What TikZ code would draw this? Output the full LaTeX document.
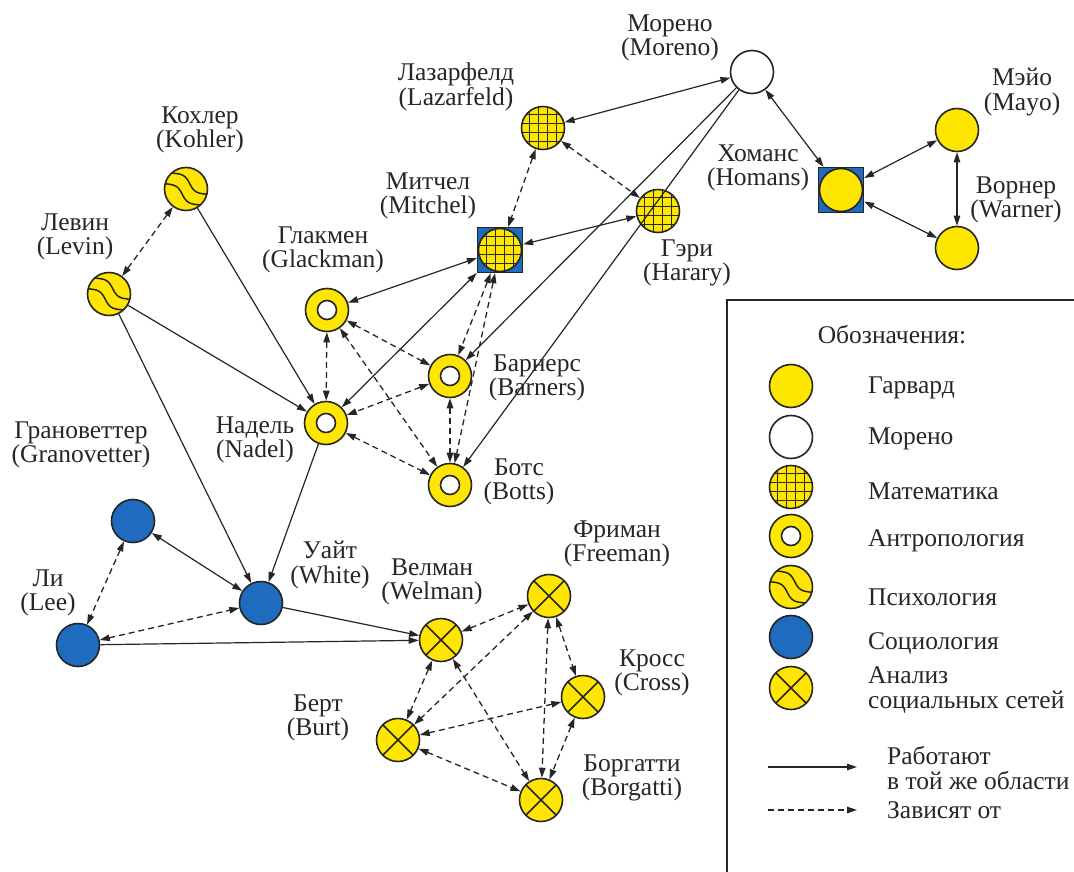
\documentclass[tikz,border=0pt]{standalone}
\usepackage{fontspec}
\setmainfont{Liberation Serif}
\usetikzlibrary{arrows.meta}
\definecolor{yel}{HTML}{FFE600}
\definecolor{blu}{HTML}{1E6BC0}
\definecolor{ink}{HTML}{262626}
\begin{document}
\begin{tikzpicture}[x=1pt,y=-1pt, font=\fontsize{25.5}{24.5}\selectfont,
 base/.style={circle, draw=ink, line width=1.6pt, fill=yel, minimum size=43pt, inner sep=0pt},
 harv/.style={base},
 mor/.style={base, fill=white},
 mathn/.style={base, path picture={\foreach \d in {-13.5,-4.5,4.5,13.5}{\draw[ink,line width=1.4pt] ([xshift=\d pt]path picture bounding box.north) -- ([xshift=\d pt]path picture bounding box.south); \draw[ink,line width=1.4pt] ([yshift=\d pt]path picture bounding box.west) -- ([yshift=\d pt]path picture bounding box.east);}}},
 anth/.style={base, path picture={\draw[ink, fill=white, line width=1.6pt] (path picture bounding box.center) circle (9.5pt);}},
 psy/.style={base, path picture={\begin{scope}[shift={(path picture bounding box.center)}]\foreach \o in {-6.5,6.5}{\draw[ink, line width=1.5pt] plot[domain=-30:30, samples=45, smooth] ({\x*cos(35)-(\o+3*sin(10*\x))*sin(35)},{\x*sin(35)+(\o+3*sin(10*\x))*cos(35)});}\end{scope}}},
 soc/.style={base, fill=blu},
 sna/.style={base, path picture={\draw[ink,line width=1.5pt] (path picture bounding box.north west) -- (path picture bounding box.south east) (path picture bounding box.north east) -- (path picture bounding box.south west);}},
 sqbox/.style={rectangle, draw=ink, fill=blu, line width=1.3pt, minimum size=45pt, inner sep=0pt},
 lbl/.style={align=center, inner sep=0pt, text=ink},
 lgl/.style={align=left, inner sep=0pt, text=ink, anchor=west},
 con/.style={draw=ink, line width=1.2pt},
 sol/.style={con, -{Triangle[length=10pt,width=6.5pt]}},
 dbl/.style={con, {Triangle[length=10pt,width=6.5pt]}-{Triangle[length=10pt,width=6.5pt]}},
 dsh/.style={dbl, line width=1.3pt, dash pattern=on 6pt off 4pt}
]
\fill[white] (0,0) rectangle (1074,872);
\useasboundingbox (0,0) rectangle (1074,872);

% legend frame
\draw[ink, line width=2pt] (1074,300) -- (727,300) -- (727,872);

% nodes
\node[mor] (moreno) at (752,72) {};
\node[mathn] (lazar) at (543,128) {};
\node[mathn] (gary) at (658,211) {};
\node[sqbox] (mitchel) at (500,250) {};
\node[mathn] (mitchelc) at (500,250) {};
\node[sqbox] (homans) at (841,190) {};
\node[harv] (homansc) at (841,190) {};
\node[harv] (mayo) at (957,130) {};
\node[harv] (warner) at (957,248) {};
\node[psy] (kohler) at (186,189) {};
\node[psy] (levin) at (109,294) {};
\node[anth] (glack) at (327,310) {};
\node[anth] (nadel) at (326,423) {};
\node[anth] (barners) at (450,376) {};
\node[anth] (botts) at (450,485) {};
\node[soc] (grano) at (133,521) {};
\node[soc] (white) at (261,603) {};
\node[soc] (lee) at (78,645) {};
\node[sna] (welman) at (441,640) {};
\node[sna] (freeman) at (549,596) {};
\node[sna] (cross) at (583,697) {};
\node[sna] (burt) at (398,740) {};
\node[sna] (borgatti) at (541,800) {};

% labels
\node[lbl] (tmoreno) at (670,38) {Морено\\(Moreno)};
\node[lbl] (tlazar) at (456,87) {Лазарфелд\\(Lazarfeld)};
\node[lbl] (tmitchel) at (428,196) {Митчел\\(Mitchel)};
\node[lbl] (tgary) at (687,263) {Гэри\\(Harary)};
\node[lbl] (thomans) at (758,168) {Хоманс\\(Homans)};
\node[lbl] (tmayo) at (1022,92) {Мэйо\\(Mayo)};
\node[lbl] (twarner) at (1016,200) {Ворнер\\(Warner)};
\node[lbl] (tkohler) at (200,130) {Кохлер\\(Kohler)};
\node[lbl] (tlevin) at (75,237) {Левин\\(Levin)};
\node[lbl] (tglack) at (323,250) {Глакмен\\(Glackman)};
\node[lbl] (tnadel) at (255,440) {Надель\\(Nadel)};
\node[lbl] (tgrano) at (81,445) {Грановеттер\\(Granovetter)};
\node[lbl] (tbarners) at (537,378) {Барнерс\\(Barners)};
\node[lbl] (tbotts) at (519,482) {Ботс\\(Botts)};
\node[lbl] (twhite) at (330,565) {Уайт\\(White)};
\node[lbl] (tlee) at (48,593) {Ли\\(Lee)};
\node[lbl] (twelman) at (432,582) {Велман\\(Welman)};
\node[lbl] (tfreeman) at (617,544) {Фриман\\(Freeman)};
\node[lbl] (tcross) at (652,673) {Кросс\\(Cross)};
\node[lbl] (tburt) at (318,718) {Берт\\(Burt)};
\node[lbl] (tborgatti) at (632,778) {Боргатти\\(Borgatti)};

% edges
\draw[dbl] (moreno) -- (lazar);
\draw[dbl] (moreno) -- (homans);
\draw[sol] (moreno) -- (barners);
\draw[sol] (moreno) -- (botts);
\draw[dbl] (mitchel) -- (gary);
\draw[dbl] (mitchel) -- (glack);
\draw[dbl] (mitchel) -- (nadel);
\draw[dsh] (lazar) -- (mitchel);
\draw[dsh] (lazar) -- (gary);
\draw[dsh] (mitchel) -- (barners);
\draw[dsh] (mitchel) -- (botts);
\draw[dbl] (homans) -- (mayo);
\draw[dbl] (homans) -- (warner);
\draw[dbl] (mayo) -- (warner);
\draw[dsh] (kohler) -- (levin);
\draw[sol] (kohler) -- (nadel);
\draw[sol] (levin) -- (nadel);
\draw[sol] (levin) -- (white);
\draw[sol] (nadel) -- (white);
\draw[dsh] (glack) -- (nadel);
\draw[dsh] (glack) -- (barners);
\draw[dsh] (glack) -- (botts);
\draw[dsh] (barners) -- (nadel);
\draw[dsh] (nadel) -- (botts);
\draw[dsh] (barners) -- (botts);
\draw[dbl] (grano) -- (white);
\draw[dsh] (grano) -- (lee);
\draw[dsh] (lee) -- (white);
\draw[sol] (white) -- (welman);
\draw[sol] (lee) -- (welman);
\draw[dsh] (welman) -- (freeman);
\draw[dsh] (welman) -- (burt);
\draw[dsh] (welman) -- (borgatti);
\draw[dsh] (freeman) -- (burt);
\draw[dsh] (freeman) -- (cross);
\draw[dsh] (freeman) -- (borgatti);
\draw[dsh] (cross) -- (burt);
\draw[dsh] (cross) -- (borgatti);
\draw[dsh] (burt) -- (borgatti);

% legend
\node[lbl] (ltitle) at (892,335) {Обозначения:};
\node[harv] (lg1) at (791,386) {};
\node[mor] (lg2) at (791,437) {};
\node[mathn] (lg3) at (791,487) {};
\node[anth] (lg4) at (791,536) {};
\node[psy] (lg5) at (791,587) {};
\node[soc] (lg6) at (791,637) {};
\node[sna] (lg7) at (791,688) {};
\node[lgl] (lt1) at (868,388) {Гарвард};
\node[lgl] (lt2) at (868,439) {Морено};
\node[lgl] (lt3) at (868,491) {Математика};
\node[lgl] (lt4) at (868,541) {Антропология};
\node[lgl] (lt5) at (868,597) {Психология};
\node[lgl] (lt6) at (868,644) {Социология};
\node[lgl] (lt7) at (868,690) {Анализ\\социальных сетей};
\coordinate (la1) at (768,767);
\coordinate (la2) at (857,767);
\coordinate (lb1) at (768,810);
\coordinate (lb2) at (857,810);
\draw[sol] (la1) -- (la2);
\draw[sol, line width=1.3pt, dash pattern=on 6pt off 4pt] (lb1) -- (lb2);
\node[lgl] (lt8) at (887,768) {Работают\\в той же области};
\node[lgl] (lt9) at (887,810) {Зависят от};
\end{tikzpicture}
\end{document}
